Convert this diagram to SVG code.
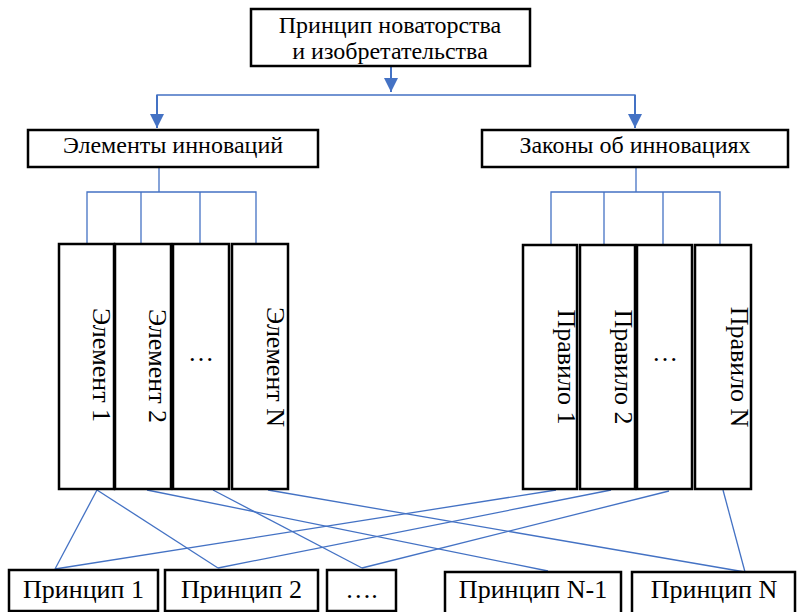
<svg xmlns="http://www.w3.org/2000/svg" width="798" height="612" viewBox="0 0 798 612">
<defs>
<style>
.box{fill:#fff;stroke:#000;stroke-width:2.5}
.t{font-family:"Liberation Serif","Times New Roman",serif;fill:#000}
.c{stroke:#4472C4;fill:none;stroke-width:1.3}
.a{stroke:#4472C4;fill:none;stroke-width:2}
</style>
<marker id="ah" markerUnits="userSpaceOnUse" markerWidth="14" markerHeight="14" viewBox="0 0 14 14" refX="14" refY="7" orient="auto">
<path d="M0,0 L14,7 L0,14 Z" fill="#4472C4"/>
</marker>
</defs>
<rect width="798" height="612" fill="#fff"/>
<g id="connectors">
<line class="a" x1="391" y1="66" x2="391" y2="92" marker-end="url(#ah)"/>
<polyline class="c" points="157,128 157,95 635,95 635,128" stroke-width="1.5"/>
<line class="a" x1="157" y1="95" x2="157" y2="128" marker-end="url(#ah)"/>
<line class="a" x1="635" y1="95" x2="635" y2="128" marker-end="url(#ah)"/>
<line class="c" x1="159" y1="167" x2="159" y2="192"/>
<polyline class="c" points="87,245 87,192 256,192 256,245"/>
<line class="c" x1="141" y1="192" x2="141" y2="245"/>
<line class="c" x1="200" y1="192" x2="200" y2="245"/>
<line class="c" x1="636" y1="167" x2="636" y2="192"/>
<polyline class="c" points="551,245 551,192 720,192 720,245"/>
<line class="c" x1="604" y1="192" x2="604" y2="245"/>
<line class="c" x1="663" y1="192" x2="663" y2="245"/>
<line class="c" x1="97" y1="490" x2="55" y2="569"/>
<line class="c" x1="97" y1="490" x2="218" y2="568"/>
<line class="c" x1="147" y1="490" x2="548" y2="571"/>
<line class="c" x1="213" y1="490" x2="362" y2="568"/>
<line class="c" x1="268" y1="490" x2="745" y2="572"/>
<line class="c" x1="556" y1="490" x2="55" y2="569"/>
<line class="c" x1="611" y1="490" x2="218" y2="568"/>
<line class="c" x1="669" y1="491" x2="362" y2="568"/>
<line class="c" x1="723" y1="490" x2="745" y2="572"/>
</g>
<g id="top">
<rect class="box" x="251" y="9" width="279" height="57"/>
<text class="t" font-size="24" text-anchor="middle" x="390" y="33">Принцип новаторства</text>
<text class="t" font-size="24" text-anchor="middle" x="390" y="59">и изобретательства</text>
</g>
<g id="elements">
<rect class="box" x="28" y="130" width="290" height="37"/>
<text class="t" font-size="24" text-anchor="middle" x="173" y="153">Элементы инноваций</text>
</g>
<g id="laws">
<rect class="box" x="482" y="130" width="306" height="37"/>
<text class="t" font-size="24" text-anchor="middle" x="635" y="153">Законы об инновациях</text>
</g>
<g id="el1"><rect class="box" x="59" y="244" width="55" height="245"/><text class="t" font-size="26" text-anchor="middle" transform="translate(93,365) rotate(90)">Элемент 1</text></g>
<g id="el2"><rect class="box" x="115" y="244" width="56" height="245"/><text class="t" font-size="26" text-anchor="middle" transform="translate(149,366) rotate(90)">Элемент 2</text></g>
<g id="el3"><rect class="box" x="173" y="244" width="56" height="245"/><text class="t" font-size="26" text-anchor="middle" x="201" y="361">…</text></g>
<g id="elN"><rect class="box" x="232" y="244" width="56" height="245"/><text class="t" font-size="26" text-anchor="middle" transform="translate(267,367) rotate(90)">Элемент N</text></g>
<g id="r1"><rect class="box" x="523" y="245" width="54" height="244"/><text class="t" font-size="26" text-anchor="middle" transform="translate(558,367) rotate(90)">Правило 1</text></g>
<g id="r2"><rect class="box" x="580" y="245" width="55" height="244"/><text class="t" font-size="26" text-anchor="middle" transform="translate(615,367) rotate(90)">Правило 2</text></g>
<g id="r3"><rect class="box" x="637" y="245" width="55" height="244"/><text class="t" font-size="26" text-anchor="middle" x="665" y="361">…</text></g>
<g id="rN"><rect class="box" x="695" y="245" width="56" height="244"/><text class="t" font-size="26" text-anchor="middle" transform="translate(731,367) rotate(90)">Правило N</text></g>
<g id="p1"><rect class="box" x="9" y="570" width="149" height="41"/><text class="t" font-size="26" text-anchor="middle" x="83.5" y="598">Принцип 1</text></g>
<g id="p2"><rect class="box" x="165" y="570" width="153" height="41"/><text class="t" font-size="26" text-anchor="middle" x="241.5" y="598">Принцип 2</text></g>
<g id="p3"><rect class="box" x="327" y="570" width="69" height="41"/><text class="t" font-size="26" text-anchor="middle" x="361.5" y="598">….</text></g>
<g id="pN1"><rect class="box" x="445" y="572" width="176" height="45"/><text class="t" font-size="26" text-anchor="middle" x="533" y="598">Принцип N-1</text></g>
<g id="pN"><rect class="box" x="632" y="572" width="163" height="45"/><text class="t" font-size="26" text-anchor="middle" x="714" y="598">Принцип N</text></g>
</svg>
